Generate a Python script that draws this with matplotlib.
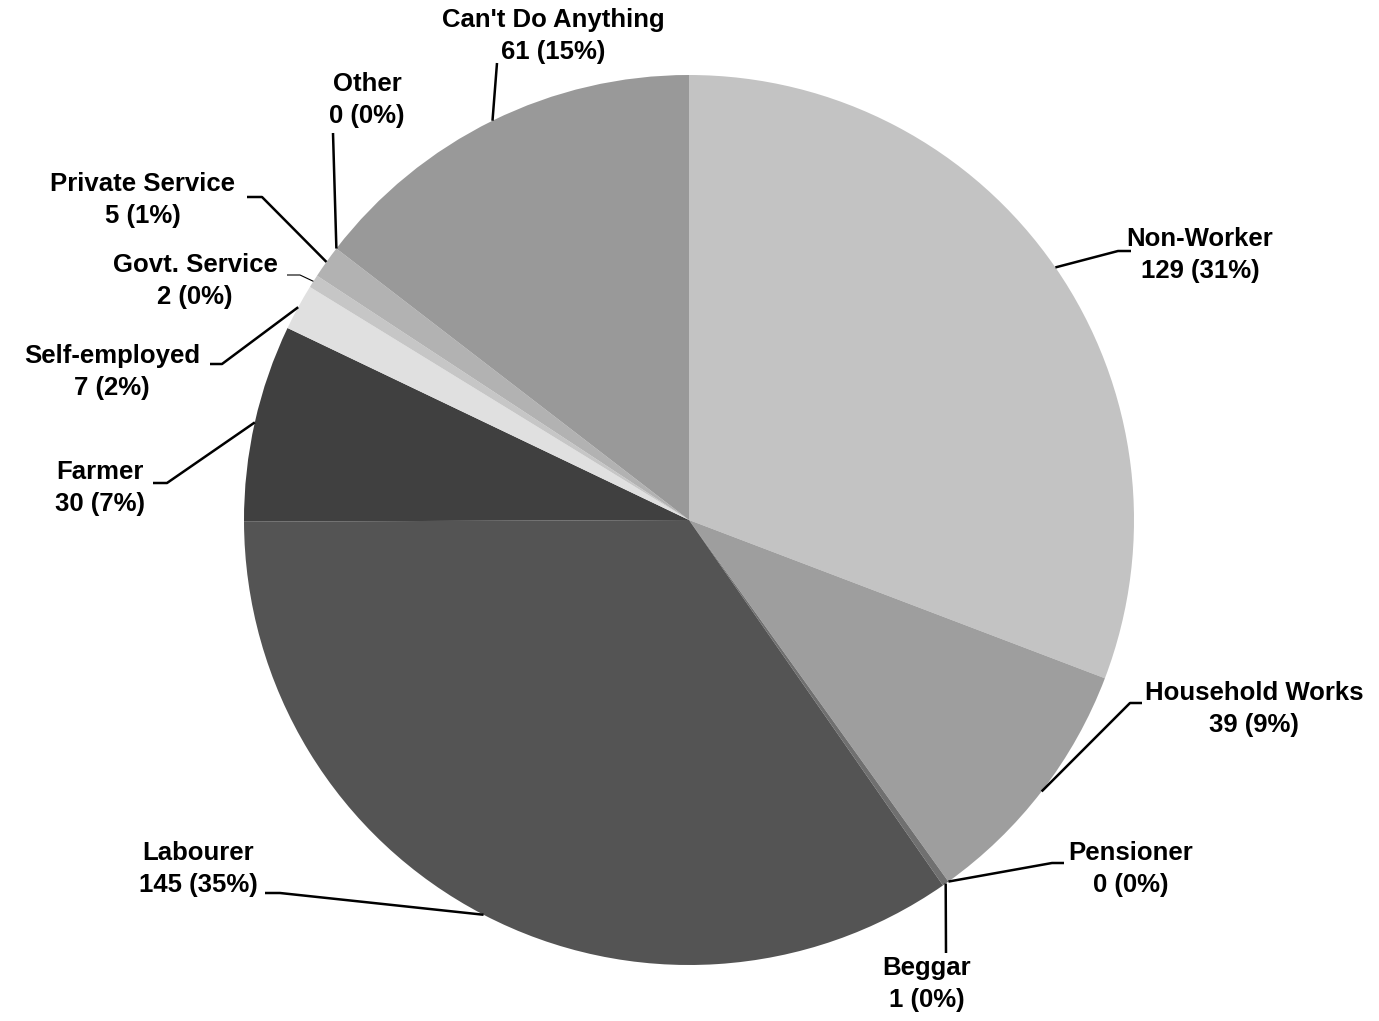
import numpy as np
import matplotlib.pyplot as plt

plt.rcParams['font.family'] = ['Liberation Sans', 'DejaVu Sans']

# data
labels = ['Non-Worker', 'Household Works', 'Pensioner', 'Beggar', 'Labourer', 'Farmer',
          'Self-employed', 'Govt. Service', 'Private Service', 'Other', "Can't Do Anything"]
counts = [129, 39, 0, 1, 145, 30, 7, 2, 5, 0, 61]
colors = ['#c3c3c3', '#9e9e9e', '#8a8a8a', '#707070', '#545454', '#404040',
          '#e0e0e0', '#c6c6c6', '#b2b2b2', '#a8a8a8', '#999999']

# label layout in image pixels (y from top): text centre, elbow, short horizontal tick
text_pos = [(1200, 255), (1254, 709), (1131, 869), (927, 984), (198, 869), (100, 488),
            (112, 372), (195, 281), (143, 200), (367, 100), (553, 36)]
elbow_pos = [(1118, 251), (1130, 703), (1052, 863), (946, 953), (280, 893), (167, 483),
             (222, 364), (300, 275), (262, 197), (333, 133), (497, 63)]
tick_len = [13, 12, 12, 0, -15, -14, -12, -13, -15, 0, 0]
line_w = [1.8] * 11
line_w[7] = 0.8

W, H = 1379, 1021
fig = plt.figure(figsize=(W / 100, H / 100), dpi=100)
ax = fig.add_axes([0, 0, 1, 1])

cx, cy, r = 689, H - 520, 445
wedges, _ = ax.pie(counts, colors=colors, startangle=90, counterclock=False,
                   radius=r, center=(cx, cy), frame=True,
                   wedgeprops=dict(linewidth=0))
ax.set_xlim(0, W)
ax.set_ylim(0, H)
ax.set_aspect('equal')
ax.axis('off')

total = sum(counts)
for i, w in enumerate(wedges):
    ang = np.deg2rad((w.theta1 + w.theta2) / 2)
    px, py = cx + r * np.cos(ang), cy + r * np.sin(ang)
    ex, ey = elbow_pos[i][0], H - elbow_pos[i][1]
    ax.plot([px, ex, ex + tick_len[i]], [py, ey, ey], color='black',
            lw=line_w[i], solid_capstyle='butt')
    pct = round(100 * counts[i] / total)
    tx, ty = text_pos[i][0], H - text_pos[i][1]
    ax.text(tx, ty, f'{labels[i]}\n{counts[i]} ({pct}%)', ha='center', va='center',
            fontsize=18.5, fontweight='bold', linespacing=1.38)

fig.savefig('out.png', dpi=100)
